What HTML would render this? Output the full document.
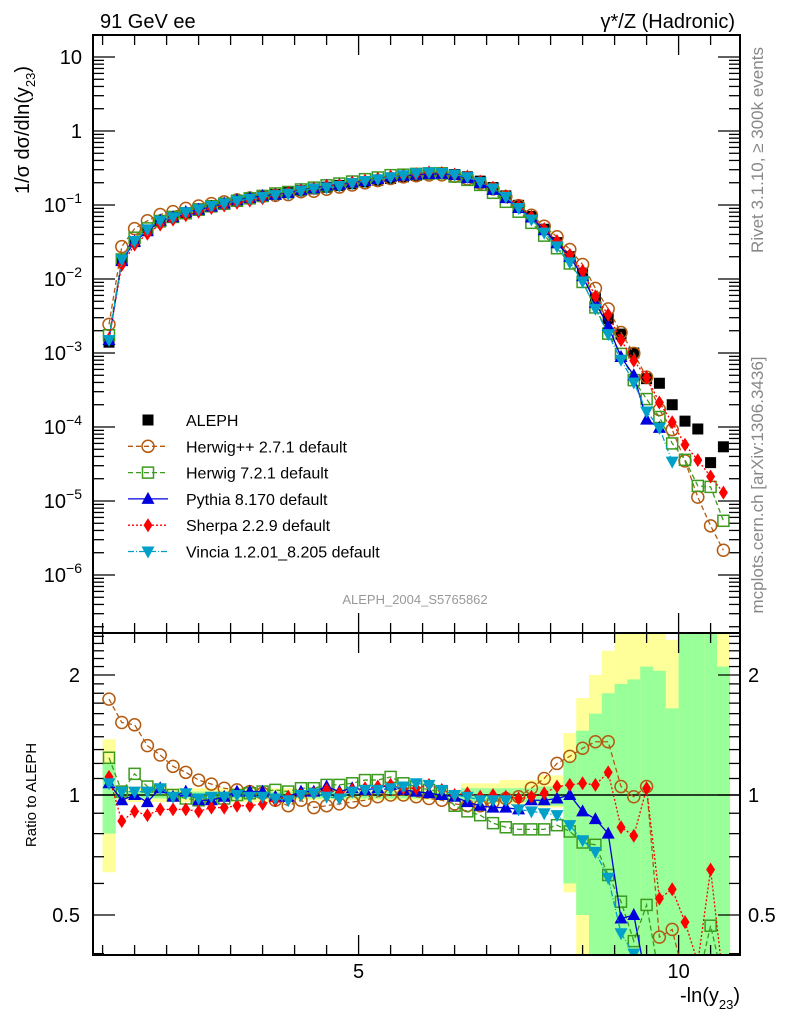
<!DOCTYPE html>
<html><head><meta charset="utf-8"><style>
html,body{margin:0;padding:0;background:#fff;overflow:hidden;width:786px;height:1024px;}
svg{display:block;font-family:"Liberation Sans",sans-serif;}
</style></head><body>
<svg id="chart" width="786" height="1024" viewBox="0 0 786 1024">
<defs>
<clipPath id="cm"><rect x="93" y="35" width="647" height="598"/></clipPath>
<clipPath id="cr"><rect x="93" y="633" width="647" height="322"/></clipPath>
</defs>
<g id="bands" clip-path="url(#cr)"></g>
<g id="grid"></g>
<g id="main" clip-path="url(#cm)"></g>
<g id="ratio" clip-path="url(#cr)"></g>
<rect x="93" y="35" width="647" height="598" fill="none" stroke="#000" stroke-width="2"/>
<rect x="93" y="633" width="647" height="322" fill="none" stroke="#000" stroke-width="2"/>
<text x="100" y="28" font-size="20">91 GeV ee</text>
<text x="735" y="28" font-size="20" text-anchor="end">γ*/Z (Hadronic)</text>
<text transform="translate(29,130) rotate(-90)" font-size="20" text-anchor="middle">1/σ  dσ/dln(y<tspan font-size="13" dy="6">23</tspan><tspan dy="-6">)</tspan></text>
<text transform="translate(36,795) rotate(-90)" font-size="15" text-anchor="middle">Ratio to ALEPH</text>
<text transform="translate(763,150) rotate(-90)" font-size="17" fill="#888" text-anchor="middle">Rivet 3.1.10, ≥ 300k events</text>
<text transform="translate(763,485) rotate(-90)" font-size="17" fill="#888" text-anchor="middle">mcplots.cern.ch [arXiv:1306.3436]</text>
<text x="415" y="604" font-size="13" fill="#999" text-anchor="middle">ALEPH_2004_S5765862</text>
<text x="740" y="1002" font-size="20" text-anchor="end">-ln(y<tspan font-size="13" dy="7">23</tspan><tspan dy="-7">)</tspan></text>
<g id="legend"></g>
</svg>
<script>
const NS="http://www.w3.org/2000/svg";
const binCenters=[1.1,1.3,1.5,1.7,1.9,2.1,2.3,2.5,2.7,2.9,3.1,3.3,3.5,3.7,3.9,4.1,4.3,4.5,4.7,4.9,5.1,5.3,5.5,5.7,5.9,6.1,6.3,6.5,6.7,6.9,7.1,7.3,7.5,7.7,7.9,8.1,8.3,8.5,8.7,8.9,9.1,9.3,9.5,9.7,9.9,10.1,10.3,10.5,10.7];
const alephValues=[1.4e-3,0.018,0.032,0.046,0.059,0.069,0.079,0.089,0.098,0.106,0.114,0.122,0.13,0.139,0.147,0.156,0.165,0.174,0.184,0.194,0.205,0.216,0.228,0.24,0.251,0.26,0.263,0.258,0.24,0.21,0.172,0.133,0.099,0.07,0.047,0.031,0.020,0.012,0.0055,0.0029,0.0018,0.0010,4.5e-4,3.9e-4,2.0e-4,1.2e-4,9.4e-5,3.3e-5,5.4e-5];
const herwigppRatio=[1.74,1.52,1.50,1.33,1.26,1.18,1.14,1.09,1.065,1.04,1.03,1.02,1.01,0.97,0.94,0.97,0.93,0.94,0.95,0.96,0.97,0.99,1.0,1.0,0.99,0.98,0.97,0.95,0.94,0.94,0.96,0.98,0.99,1.04,1.10,1.20,1.25,1.31,1.36,1.36,1.05,0.99,1.05,0.44,0.46,0.29,0.12,0.14,0.04];
const herwig7Ratio=[1.24,1.02,1.13,1.05,1.03,1.0,0.98,0.97,0.98,0.98,1.0,1.01,1.02,1.03,1.02,1.04,1.04,1.06,1.06,1.07,1.09,1.09,1.11,1.07,1.05,1.03,1.02,0.94,0.91,0.89,0.85,0.83,0.82,0.82,0.82,0.84,0.81,0.76,0.75,0.63,0.54,0.43,0.53,0.35,0.3,0.3,0.17,0.47,0.1];
const pythiaRatio=[1.07,0.97,1.0,0.96,1.04,0.99,1.02,0.97,0.97,0.99,1.02,1.02,1.02,0.99,0.99,1.02,1.02,1.05,1.02,1.04,1.03,1.04,1.06,1.03,1.02,1.01,1.0,0.99,0.96,0.94,0.93,0.93,0.92,0.97,0.97,0.98,1.0,0.91,0.87,0.80,0.49,0.50,0.28,0.25,null,null,null,null,null];
const sherpaRatio=[1.11,0.86,0.91,0.89,0.92,0.92,0.92,0.91,0.93,0.93,0.94,0.94,0.95,0.97,0.99,1.0,1.01,1.03,1.01,1.03,1.04,1.05,1.06,1.04,1.04,1.06,1.03,1.0,1.01,0.99,1.0,0.99,0.98,0.99,1.01,1.05,1.06,1.07,1.06,1.14,0.83,0.79,1.04,0.55,0.58,0.48,0.38,0.65,0.24];
const vinciaRatio=[1.07,1.02,1.02,1.02,1.04,0.99,1.01,0.98,0.99,0.99,1.0,0.99,0.99,0.98,0.97,1.0,1.01,0.99,0.98,1.02,1.03,1.03,1.04,1.05,1.07,1.06,1.03,1.0,0.99,0.97,0.97,0.97,0.92,0.91,0.90,0.89,0.84,0.77,0.72,0.62,0.45,0.4,0.36,0.25,0.17,null,null,null,null];
const yellowHi=[1.38,1.05,1.05,1.05,1.05,1.04,1.04,1.04,1.04,1.04,1.04,1.04,1.04,1.04,1.04,1.03,1.03,1.03,1.03,1.03,1.03,1.03,1.03,1.03,1.03,1.03,1.03,1.03,1.07,1.07,1.07,1.09,1.09,1.09,1.12,1.12,1.43,1.75,2.0,2.3,3,3,3,3,2.45,3,3,3,3];
const yellowLo=[0.64,0.96,0.96,0.96,0.96,0.96,0.96,0.96,0.96,0.96,0.96,0.96,0.96,0.96,0.96,0.97,0.97,0.97,0.97,0.97,0.97,0.97,0.97,0.97,0.97,0.97,0.97,0.97,0.95,0.95,0.95,0.95,0.95,0.95,0.93,0.93,0.57,0.3,0.3,0.3,0.3,0.3,0.3,0.3,0.3,0.3,0.3,0.3,0.3];
const greenHi=[1.2,1.02,1.02,1.02,1.02,1.02,1.02,1.02,1.02,1.02,1.02,1.02,1.02,1.02,1.02,1.02,1.02,1.02,1.02,1.02,1.02,1.02,1.02,1.02,1.02,1.02,1.02,1.02,1.04,1.04,1.04,1.04,1.04,1.04,1.05,1.05,1.22,1.45,1.6,1.8,1.9,1.95,2.1,2.05,1.65,3,3,3,2.1];
const greenLo=[0.8,0.98,0.98,0.98,0.98,0.98,0.98,0.98,0.98,0.98,0.98,0.98,0.98,0.98,0.98,0.98,0.98,0.98,0.98,0.98,0.98,0.98,0.98,0.98,0.98,0.98,0.98,0.98,0.96,0.96,0.96,0.96,0.96,0.96,0.94,0.94,0.6,0.5,0.3,0.3,0.3,0.3,0.3,0.3,0.3,0.3,0.3,0.3,0.3];
const mainTickExps=[1,0,-1,-2,-3,-4,-5,-6];
const ratioTickLabels=[2,1,0.5];
const xTickLabels=[5,10];

const xs=v=>38.6+64*v;
const my=v=>131-74*Math.log10(v);
const ry=r=>795-120*Math.log2(Math.min(2.7,Math.max(0.34,r)));
function mk(tag,attrs,parent){const e=document.createElementNS(NS,tag);for(const k in attrs)e.setAttribute(k,attrs[k]);parent.appendChild(e);return e;}
const G=id=>document.getElementById(id);

binCenters.forEach((c,i)=>{
  let r=mk('rect',{x:xs(c-0.1),y:ry(yellowHi[i]),width:12.8+0.3,height:ry(yellowLo[i])-ry(yellowHi[i]),fill:'#ffff99'},G('bands'));
  
  
  let g=mk('rect',{x:xs(c-0.1),y:ry(greenHi[i]),width:12.8+0.3,height:ry(greenLo[i])-ry(greenHi[i]),fill:'#99ff99'},G('bands'));
  
  
});
let one=mk('line',{x1:93,x2:740,y1:ry(1),y2:ry(1),stroke:'#000','stroke-width':1.5},G('grid'));



const gr=G('grid');
for(let v=1;v<=11;v+=0.5){
  const x=xs(v); if(x<94||x>739)continue;
  const maj=(v===5||v===10);const L=maj?20:10;
  [[633,-1],[955,-1],[35,1],[633,1]].forEach(([y,d])=>mk('line',{x1:x,x2:x,y1:y,y2:y+d*L,stroke:'#000','stroke-width':1.3},gr));
}
xTickLabels.forEach(v=>{let t=mk('text',{x:xs(v),y:978,'font-size':20,'text-anchor':'middle'},gr);t.textContent=v;

});
for(let e=-7;e<=1;e++){for(let m=1;m<10;m++){const v=m*Math.pow(10,e);const y=my(v);if(y<36||y>632)continue;const L=m===1?22:11;
 mk('line',{x1:93,x2:93+L,y1:y,y2:y,stroke:'#000','stroke-width':1.3},gr);mk('line',{x1:740,x2:740-L,y1:y,y2:y,stroke:'#000','stroke-width':1.3},gr);}}
mainTickExps.forEach(e=>{const y=my(Math.pow(10,e))+7;let t=mk('text',{x:82,y:y,'font-size':20,'text-anchor':'end'},gr);
 if(e===1)t.textContent='10';else if(e===0)t.textContent='1';else{t.textContent='10';const s=mk('tspan',{dy:-9,'font-size':14},t);s.textContent='−'+(-e);}
 
 });
for(let r=0.4;r<=2.6;r+=0.1){const y=ry(r);if(y<634||y>954)continue;const maj=Math.abs(r-0.5)<1e-6||Math.abs(r-1)<1e-6||Math.abs(r-2)<1e-6;const L=maj?22:11;
 mk('line',{x1:93,x2:93+L,y1:y,y2:y,stroke:'#000','stroke-width':1.3},gr);mk('line',{x1:740,x2:740-L,y1:y,y2:y,stroke:'#000','stroke-width':1.3},gr);}
ratioTickLabels.forEach(r=>{[[80,'end'],[748,'start']].forEach(([x,a])=>{let t=mk('text',{x:x,y:ry(r)+7,'font-size':20,'text-anchor':a},gr);t.textContent=r;
 
 });});

function marker(type,x,y,color,parent){
  let e;
  if(type==='sq')e=mk('rect',{x:x-5.5,y:y-5.5,width:11,height:11,fill:'#000'},parent);
  else if(type==='circ')e=mk('circle',{cx:x,cy:y,r:6,fill:'none',stroke:color,'stroke-width':1.5},parent);
  else if(type==='osq')e=mk('rect',{x:x-5.5,y:y-5.5,width:11,height:11,fill:'none',stroke:color,'stroke-width':1.5},parent);
  else if(type==='tri')e=mk('polygon',{points:`${x},${y-7} ${x-6.5},${y+5} ${x+6.5},${y+5}`,fill:color},parent);
  else if(type==='dia')e=mk('polygon',{points:`${x},${y-7} ${x-4.5},${y} ${x},${y+7} ${x+4.5},${y}`,fill:color},parent);
  else if(type==='itri')e=mk('polygon',{points:`${x},${y+7} ${x-6.5},${y-5} ${x+6.5},${y-5}`,fill:color},parent);
  return e;
}
binCenters.forEach((c,i)=>{let m=marker('sq',xs(c),my(alephValues[i]),'#000',G('main'));
 
 });
const series=[
 {n:'herwigpp',r:herwigppRatio,c:'#b35a10',t:'circ',d:'5,3'},
 {n:'herwig7',r:herwig7Ratio,c:'#3c9a1e',t:'osq',d:'5,3'},
 {n:'pythia',r:pythiaRatio,c:'#0000dd',t:'tri',d:''},
 {n:'sherpa',r:sherpaRatio,c:'#ff0000',t:'dia',d:'2,2'},
 {n:'vincia',r:vinciaRatio,c:'#00a0c8',t:'itri',d:'6,2,1,2'}];
series.forEach(s=>{
  let pm=[],pr=[];
  binCenters.forEach((c,i)=>{const r=s.r[i];if(r==null)return;pm.push([xs(c),my(alephValues[i]*r)]);pr.push([xs(c),ry(r)]);});
  [[pm,'main'],[pr,'ratio']].forEach(([pts,g])=>{
    let l=mk('polyline',{points:pts.map(p=>p.join(',')).join(' '),fill:'none',stroke:s.c,'stroke-width':1.3,'stroke-dasharray':s.d},G(g));
    
    
    pts.forEach(p=>{let m=marker(s.t,p[0],p[1],s.c,G(g));
      
      });
  });
});

const leg=[['ALEPH','sq','#000',null],['Herwig++ 2.7.1 default','circ','#b35a10','5,3'],['Herwig 7.2.1 default','osq','#3c9a1e','5,3'],['Pythia 8.170 default','tri','#0000dd',''],['Sherpa 2.2.9 default','dia','#ff0000','2,2'],['Vincia 1.2.01_8.205 default','itri','#00a0c8','6,2,1,2']];
leg.forEach((L,i)=>{const y=420+26.3*i;const g=mk('g',{},G('legend'));
 
 
 if(L[3]!==null)mk('line',{x1:128,x2:168,y1:y,y2:y,stroke:L[2],'stroke-width':1.3,'stroke-dasharray':L[3]},g);
 marker(L[1],148,y,L[2],g);
 const t=mk('text',{x:186,y:y+6,'font-size':16},g);t.textContent=L[0];});
</script>
</body></html>
